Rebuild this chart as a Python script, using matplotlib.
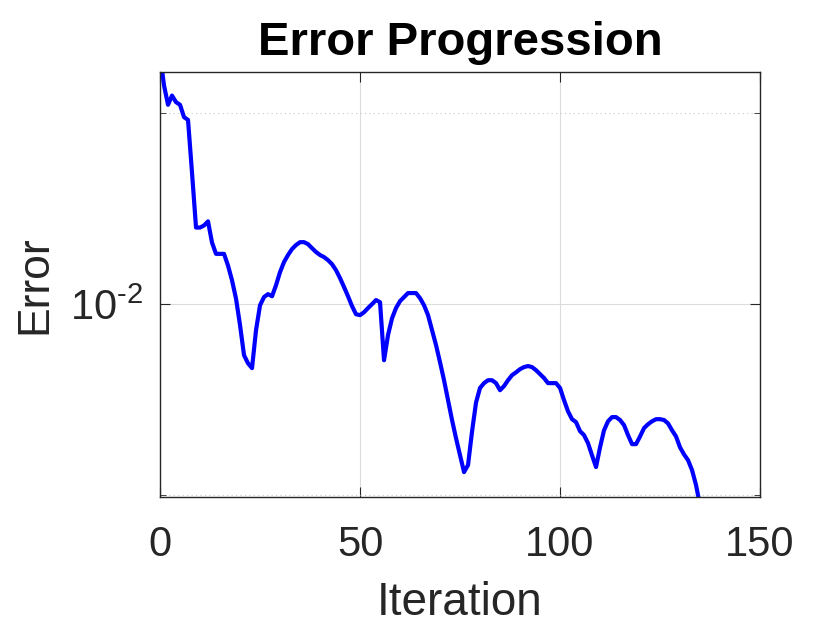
import numpy as np
import matplotlib
matplotlib.use("Agg")
import matplotlib.pyplot as plt
import matplotlib.ticker as ticker

plt.rcParams.update({
    "font.family": ["Liberation Sans", "DejaVu Sans"],
    "mathtext.fontset": "custom",
    "mathtext.rm": "Liberation Sans",
})

# error per iteration
iteration = np.arange(0, 137)
error = [
    0.0247, 0.0221, 0.0206, 0.0213, 0.0208, 0.0206, 0.0197, 0.0195, 0.0161, 0.0132,
    0.0132, 0.0133, 0.0135, 0.0125, 0.0120, 0.0120, 0.0120, 0.0115, 0.0109, 0.0102,
    0.00927, 0.00831, 0.00807, 0.00793, 0.00910, 0.00996, 0.01026, 0.01037, 0.01029, 0.01071,
    0.01123, 0.01165, 0.01195, 0.01221, 0.01239, 0.01252, 0.01252, 0.01243, 0.01225, 0.01208,
    0.01195, 0.01186, 0.01173, 0.01156, 0.01131, 0.01099, 0.01064, 0.01029, 0.00993, 0.00964,
    0.00961, 0.00971, 0.00986, 0.01000, 0.01015, 0.01007, 0.00816, 0.00894, 0.00950, 0.00986,
    0.01011, 0.01026, 0.01041, 0.01041, 0.01041, 0.01022, 0.00996, 0.00961, 0.00910, 0.00862,
    0.00810, 0.00759, 0.00706, 0.00657, 0.00615, 0.00578, 0.00544, 0.00558, 0.00630, 0.00700,
    0.00738, 0.00751, 0.00759, 0.00759, 0.00751, 0.00732, 0.00743, 0.00759, 0.00773, 0.00781,
    0.00790, 0.00796, 0.00799, 0.00796, 0.00787, 0.00776, 0.00765, 0.00751, 0.00751, 0.00751,
    0.00738, 0.00706, 0.00678, 0.00659, 0.00652, 0.00631, 0.00622, 0.00604, 0.00578, 0.00554,
    0.00595, 0.00633, 0.00654, 0.00664, 0.00664, 0.00657, 0.00645, 0.00622, 0.00602, 0.00602,
    0.00619, 0.00638, 0.00647, 0.00654, 0.00659, 0.00659, 0.00657, 0.00649, 0.00633, 0.00619,
    0.00595, 0.00580, 0.00568, 0.00548, 0.00519, 0.00482, 0.00440,
]

x_ticks = [0, 50, 100, 150]
y_major = [0.01]
y_minor = [0.005, 0.02]

fig = plt.figure(figsize=(8.4, 6.3), dpi=100)
ax = fig.add_axes([0.1905, 0.2111, 0.7143, 0.6746])

ax.plot(iteration, error, color="#0000FF", linewidth=3.0)
ax.set_yscale("log")
ax.set_xlim(0, 150)
ax.set_ylim(0.00497, 0.0232)

ax.set_xticks(x_ticks)
ax.yaxis.set_major_locator(ticker.FixedLocator(y_major))
ax.yaxis.set_minor_locator(ticker.FixedLocator(y_minor))
ax.yaxis.set_major_formatter(ticker.FixedFormatter([r"$\mathregular{10^{\text{-}2}}$"]))
ax.yaxis.set_minor_formatter(ticker.NullFormatter())

ax.grid(True, which="major", color="#dcdcdc", linewidth=0.8, linestyle="-")
ax.grid(True, which="minor", axis="y", color="#c8c8c8", linewidth=0.8, linestyle=(0, (1, 3)))
ax.set_axisbelow(True)

for s in ax.spines.values():
    s.set_color("#262626")
    s.set_linewidth(1.0)
ax.tick_params(which="both", direction="in", top=True, right=True, colors="#262626",
               labelsize=30)
ax.tick_params(axis="x", pad=20)
ax.tick_params(axis="y", pad=12)
ax.tick_params(which="major", length=7)
ax.tick_params(which="minor", length=4)

ax.set_xlabel("Iteration", fontsize=33, color="#262626", labelpad=12)
ax.set_ylabel("Error", fontsize=32, color="#262626", labelpad=11)
ax.set_title("Error Progression", fontsize=34, fontweight="bold", pad=12)

fig.savefig("out.png", dpi=100)
